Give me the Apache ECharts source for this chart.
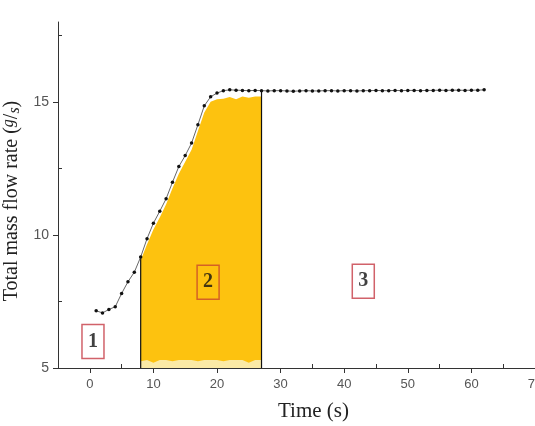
<!DOCTYPE html>
<html>
<head>
<meta charset="utf-8">
<script src="https://cdn.jsdelivr.net/npm/echarts@6/dist/echarts.min.js"></script>
<style>
  html, body { margin: 0; padding: 0; background: #fff; }
  #chart { width: 535px; height: 426px; }
</style>
</head>
<body>
<div id="chart"></div>
<script>
// measured mass flow rate, one point per second
const timeSec = [1, 2, 3, 4, 5, 6, 7, 8, 9, 10, 11, 12, 13, 14, 15, 16, 17, 18, 19, 20,
  21, 22, 23, 24, 25, 26, 27, 28, 29, 30, 31, 32, 33, 34, 35, 36, 37, 38, 39, 40,
  41, 42, 43, 44, 45, 46, 47, 48, 49, 50, 51, 52, 53, 54, 55, 56, 57, 58, 59, 60, 61, 62]
const flowRate = [7.15, 7.07, 7.2, 7.3, 7.8, 8.24, 8.6, 9.17, 9.86, 10.44, 10.89, 11.36, 11.98, 12.57, 12.98, 13.45, 14.14, 14.85, 15.19, 15.33,
  15.42, 15.45, 15.44, 15.43, 15.42, 15.43, 15.42, 15.41, 15.42, 15.42, 15.41, 15.40, 15.41, 15.42, 15.41, 15.41, 15.42, 15.42, 15.41, 15.42,
  15.42, 15.41, 15.42, 15.42, 15.43, 15.42, 15.42, 15.43, 15.42, 15.43, 15.43, 15.42, 15.43, 15.43, 15.44, 15.43, 15.44, 15.44, 15.43, 15.44, 15.44, 15.45]

// yellow shaded region (phase 2)
const fillTime = [8, 9, 10, 11, 12, 13, 14, 15, 16, 17, 18, 19, 20, 21, 22, 23, 24, 25, 26, 27]
const fillTop = [9.05, 9.65, 10.2, 10.65, 11.15, 11.75, 12.3, 12.75, 13.2, 13.9, 14.6, 15.0, 15.1, 15.12, 15.18, 15.1, 15.2, 15.15, 15.2, 15.2]
const fringeTop = [5.25, 5.3, 5.2, 5.3, 5.3, 5.25, 5.3, 5.3, 5.3, 5.25, 5.3, 5.3, 5.3, 5.25, 5.3, 5.3, 5.3, 5.2, 5.3, 5.3]

// phase boundaries
const edgeStart = [[8, 5], [8, 9.17]]
const edgeEnd = [[27, 5], [27, 15.42]]

// phase labels
const phaseNames = ['1', '2', '3']
const phasePos = [[0.5, 6.0], [18.6, 8.22], [43.0, 8.26]]
const phaseBorder = ['#c63b45', '#c9482a', '#c63b45']

// axis ticks
const xMajor = [0, 10, 20, 30, 40, 50, 60, 70]
const xMinor = [5, 15, 25, 35, 45, 55, 65]
const yMajor = [5, 10, 15]
const yMinor = [7.5, 12.5, 17.5]

const chart = echarts.init(document.getElementById('chart'))

const pairs = (xs, ys) => xs.map((x, i) => [x, ys[i]])

const option = {
  animation: false,
  grid: { left: 58, right: 0, top: 22, bottom: 58, outerBoundsMode: 'none', containLabel: false },
  xAxis: [
    {
      type: 'value',
      min: -5, max: 70,
      name: 'Time (s)',
      nameLocation: 'middle',
      nameGap: 33,
      nameTextStyle: { fontFamily: 'Liberation Serif', fontSize: 21, color: '#222', padding: [0, 0, 0, 34] },
      axisLine: { onZero: false, lineStyle: { color: '#333', width: 1 } },
      axisTick: { length: 5, customValues: xMajor, lineStyle: { color: '#333' } },
      axisLabel: { fontFamily: 'Liberation Sans', fontSize: 13, color: '#555', margin: 10, customValues: xMajor },
      splitLine: { show: false }
    },
    {
      type: 'value',
      min: -5, max: 70,
      position: 'bottom',
      axisLine: { show: false, onZero: false },
      axisTick: { inside: true, length: 4, customValues: xMinor, lineStyle: { color: '#333' } },
      axisLabel: { show: false },
      splitLine: { show: false }
    }
  ],
  yAxis: [
    {
      type: 'value',
      min: 5, max: 18,
      name: '{t|Total mass flow rate (}{sup|g}{t|/}{sub|s}{t|)}',
      nameLocation: 'middle',
      nameGap: 33,
      nameTextStyle: {
        padding: [0, 12, 0, 0],
        rich: {
          t: { fontFamily: 'Liberation Serif', fontSize: 20, color: '#222' },
          sup: { fontFamily: 'Liberation Serif', fontStyle: 'italic', fontSize: 16, color: '#222', verticalAlign: 'top', padding: [0, 0, 6, 0] },
          sub: { fontFamily: 'Liberation Serif', fontStyle: 'italic', fontSize: 16, color: '#222', padding: [6, 0, 0, 0] }
        }
      },
      axisLine: { onZero: false, lineStyle: { color: '#333', width: 1 } },
      axisTick: { length: 5, customValues: yMajor, lineStyle: { color: '#333' } },
      axisLabel: { fontFamily: 'Liberation Sans', fontSize: 14, color: '#555', margin: 9, customValues: yMajor },
      splitLine: { show: false }
    },
    {
      type: 'value',
      min: 5, max: 18,
      position: 'left',
      offset: 0,
      axisLine: { show: false, onZero: false },
      axisTick: { inside: true, length: 4, customValues: yMinor, lineStyle: { color: '#333' } },
      axisLabel: { show: false },
      splitLine: { show: false }
    }
  ],
  series: [
    {
      name: 'phase 2',
      type: 'line',
      data: pairs(fillTime, fillTop),
      symbol: 'none',
      lineStyle: { width: 0 },
      areaStyle: { color: '#fdc20f', opacity: 1, origin: 'start' },
      z: 1
    },
    {
      name: 'fringe',
      type: 'line',
      data: pairs(fillTime, fringeTop),
      symbol: 'none',
      lineStyle: { width: 0 },
      areaStyle: { color: '#fbeaa6', opacity: 1, origin: 'start' },
      z: 2
    },
    {
      type: 'line', data: edgeStart, symbol: 'none',
      lineStyle: { color: '#111', width: 1.2 }, z: 3
    },
    {
      type: 'line', data: edgeEnd, symbol: 'none',
      lineStyle: { color: '#111', width: 1.2 }, z: 3
    },
    {
      name: 'Total mass flow rate',
      type: 'line',
      data: pairs(timeSec, flowRate),
      symbol: 'circle',
      symbolSize: 3.5,
      itemStyle: { color: '#111' },
      lineStyle: { color: '#666', width: 1 },
      z: 5
    },
    {
      type: 'scatter',
      data: phasePos.map((p, i) => ({
        value: p,
        name: phaseNames[i],
        label: { borderColor: phaseBorder[i] }
      })),
      symbolSize: 0,
      label: {
        show: true,
        position: 'inside',
        formatter: '{b}',
        fontFamily: 'Liberation Serif',
        fontWeight: 'bold',
        fontSize: 20,
        color: '#111',
        borderWidth: 1.5,
        padding: [8, 6, 6, 6]
      },
      z: 6
    }
  ]
}

chart.setOption(option)
</script>
</body>
</html>
